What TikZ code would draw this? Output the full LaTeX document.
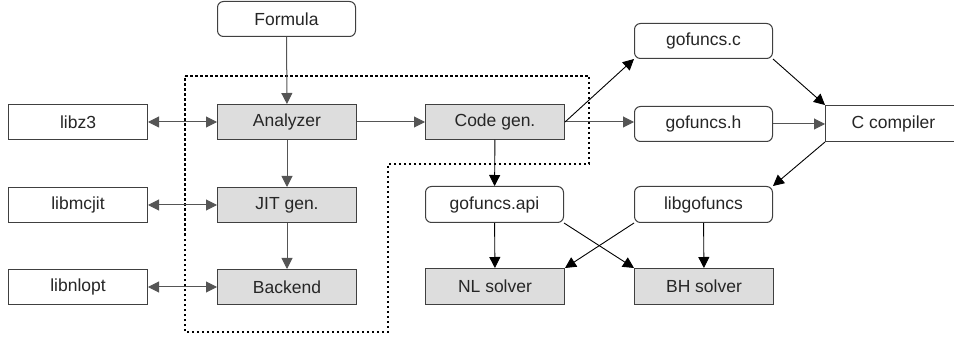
\documentclass[tikz,border=0pt]{standalone}
\usepackage{fontspec}
\setmainfont{Liberation Sans}
\usetikzlibrary{arrows.meta}
\definecolor{boxgray}{HTML}{DDDDDD}
\definecolor{edge}{HTML}{404040}
\definecolor{linegray}{HTML}{555555}
\tikzset{
  base/.style={draw=edge, line width=1pt, inner sep=0pt, minimum height=35pt, font=\fontsize{17.5}{19}\selectfont, text=black!85, anchor=north west},
  plainbox/.style={base, fill=white, minimum width=139pt},
  graybox/.style={base, fill=boxgray, minimum width=139pt},
  roundbox/.style={base, fill=white, rounded corners=6pt, minimum width=138pt},
  conn/.style={draw=linegray, line width=1pt, -{Triangle[length=11pt,width=11pt]}},
  connb/.style={draw=black, line width=0.9pt, -{Triangle[length=11pt,width=11pt]}},
  biconn/.style={draw=linegray, line width=1pt, {Triangle[length=11pt,width=11pt]}-{Triangle[length=11pt,width=11pt]}},
}
\begin{document}
\begin{tikzpicture}[x=1pt,y=-1pt]
\useasboundingbox (0,0) rectangle (954,339);
% dotted region
\draw[black, line width=1.4pt, dash pattern=on 2.5pt off 2.5pt]
  (185,76) -- (589,76) -- (589,164) -- (388,164) -- (388,332) -- (185,332) -- cycle;
% nodes
\node[roundbox] (formula) at (217,1) {Formula};
\node[plainbox] (libz3) at (8,104) {libz3};
\node[graybox] (analyzer) at (217,104) {Analyzer};
\node[graybox] (codegen) at (425,104) {Code gen.};
\node[roundbox] (gofc) at (634,23) {gofuncs.c};
\node[roundbox] (gofh) at (634,106) {gofuncs.h};
\node[plainbox, minimum width=136pt, minimum height=36pt] (cc) at (825,105) {C compiler};
\node[plainbox] (libmcjit) at (8,187) {libmcjit};
\node[graybox] (jit) at (217,187) {JIT gen.};
\node[roundbox, minimum height=36pt] (api) at (425,186) {gofuncs.api};
\node[roundbox, minimum height=36pt] (libgof) at (634,186) {libgofuncs};
\node[plainbox] (libnlopt) at (8,269) {libnlopt};
\node[graybox] (backend) at (217,269) {Backend};
\node[graybox, minimum height=36pt] (nl) at (425,268) {NL solver};
\node[graybox, minimum height=36pt] (bh) at (634,268) {BH solver};
% connectors
\draw[conn] (formula) -- (analyzer);
\draw[biconn] (libz3) -- (analyzer);
\draw[biconn] (libmcjit) -- (jit);
\draw[biconn] (libnlopt) -- (backend);
\draw[conn] (analyzer) -- (jit);
\draw[conn] (jit) -- (backend);
\draw[conn] (analyzer) -- (codegen);
\draw[conn] (codegen.east) -- (codegen.east -| gofh.west);
\draw[connb] (codegen.east) -- (gofc.south west);
\draw[connb] (codegen) -- (api);
\draw[connb] (gofc.south east) -- (cc.north west);
\draw[conn] (gofh.east) -- (gofh.east -| cc.west);
\draw[connb] (cc.south west) -- (libgof.north east);
\draw[connb] (api) -- (nl);
\draw[connb] (libgof) -- (bh);
\draw[connb] (api.south east) -- (bh.north west);
\draw[connb] (libgof.south west) -- (nl.north east);
\end{tikzpicture}
\end{document}
